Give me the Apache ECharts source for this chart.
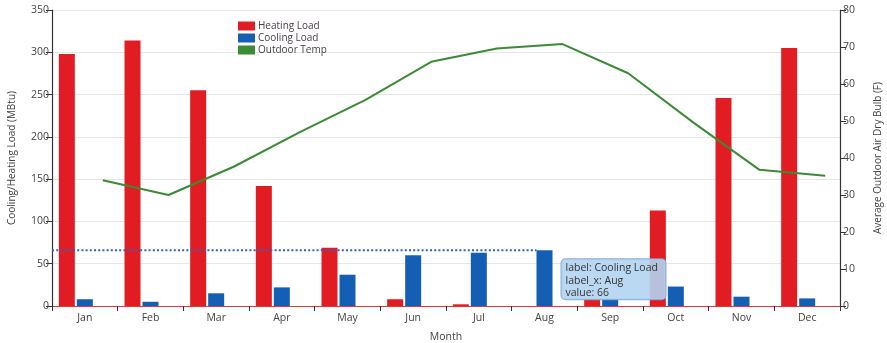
<!DOCTYPE html>
<html>
<head>
<meta charset="utf-8">
<script src="https://cdn.jsdelivr.net/npm/echarts@6/dist/echarts.min.js"></script>
<style>
  html, body { margin: 0; padding: 0; background: #fff; }
  #chart { width: 887px; height: 343px; }
</style>
</head>
<body>
<div id="chart"></div>
<script>
// Monthly building loads and outdoor temperature
const months = ['Jan', 'Feb', 'Mar', 'Apr', 'May', 'Jun', 'Jul', 'Aug', 'Sep', 'Oct', 'Nov', 'Dec'];
const heatingLoad = [298, 314, 255, 142, 69, 8, 2, 0, 8, 113, 246, 305];
const coolingLoad = [8, 5, 15, 22, 37, 60, 63, 66, 8, 23, 11, 9];
const outdoorTemp = [34, 30, 37.7, 47, 55.7, 66, 69.6, 70.8, 62.9, 49.5, 36.8, 35.2];

// Axis ranges
const loadAxis = { min: 0, max: 350, interval: 50 };
const tempAxis = { min: 0, max: 80, interval: 10 };

// Hovered bar with its drop line and info box
const hoverSeries = 'Cooling Load';
const hoverMonth = 'Aug';

// Layout
const W = 887, H = 343;
const GRID = { left: 52, right: 47, top: 10, bottom: 37 };
const BAR_W = 16, BAR_GAP = 2;
const catWidth = (W - GRID.left - GRID.right) / months.length;
// temperature points sit on the third (empty) slot of each month group
const slotShift = (BAR_W + BAR_GAP) / catWidth;

const RED = '#e11d23', BLUE = '#145fb4', GREEN = '#3b8a34';
const FONT = 'Open Sans';
const TEXT = '#444';

const hoverIdx = months.indexOf(hoverMonth);
const hoverValue = coolingLoad[hoverIdx];

const chart = echarts.init(document.getElementById('chart'), null, { renderer: 'canvas' });

const barCommon = {
  type: 'bar',
  xAxisIndex: 0, yAxisIndex: 0,
  barWidth: BAR_W,
  barGap: (BAR_GAP / BAR_W * 100) + '%'
};

chart.setOption({
  animation: false,
  backgroundColor: '#fff',
  textStyle: { fontFamily: FONT },
  grid: {
    left: GRID.left, right: GRID.right, top: GRID.top, bottom: GRID.bottom,
    containLabel: false,
    outerBoundsMode: 'none'
  },
  legend: {
    data: ['Heating Load', 'Cooling Load', 'Outdoor Temp'],
    orient: 'vertical',
    left: 233, top: 16,
    icon: 'rect',
    itemWidth: 17, itemHeight: 9, itemGap: 2,
    textStyle: { fontFamily: FONT, fontSize: 10, color: '#4a404a', padding: [0, 0, 0, -2] }
  },
  xAxis: [
    {
      type: 'category',
      data: months,
      name: 'Month',
      nameLocation: 'middle',
      nameGap: 26,
      nameTextStyle: { fontSize: 10.5, color: TEXT },
      axisLine: { lineStyle: { color: '#e0392f', width: 1.2 } },
      axisTick: { show: true, length: 5, lineStyle: { color: '#333' } },
      axisLabel: { fontSize: 10.5, color: TEXT, margin: 7 },
      splitLine: { show: false }
    },
    {
      type: 'value',
      min: -0.5, max: months.length - 0.5,
      show: false
    }
  ],
  yAxis: [
    {
      type: 'value',
      min: loadAxis.min, max: loadAxis.max, interval: loadAxis.interval,
      name: 'Cooling/Heating Load (MBtu)',
      nameLocation: 'middle',
      nameGap: 35,
      nameTextStyle: { fontSize: 10, color: TEXT },
      axisLine: { show: true, onZero: false, lineStyle: { color: '#333', width: 1.2 } },
      axisTick: { show: true, length: 6, lineStyle: { color: '#333' } },
      axisLabel: { fontSize: 10.5, color: TEXT, margin: 3 },
      splitLine: { show: true, lineStyle: { color: '#e6e6e6', width: 1 } }
    },
    {
      type: 'value',
      position: 'right',
      min: tempAxis.min, max: tempAxis.max, interval: tempAxis.interval,
      name: 'Average Outdoor Air Dry Bulb (F)',
      nameLocation: 'middle',
      nameGap: 33,
      nameTextStyle: { fontSize: 10, color: TEXT },
      axisLine: { show: true, onZero: false, lineStyle: { color: '#333', width: 1.2 } },
      axisTick: { show: true, length: 6, lineStyle: { color: '#333' } },
      axisLabel: { fontSize: 10.5, color: TEXT, margin: 3 },
      splitLine: { show: false }
    }
  ],
  series: [
    Object.assign({}, barCommon, {
      name: 'Heating Load',
      data: heatingLoad,
      itemStyle: { color: RED },
      z: 2
    }),
    Object.assign({}, barCommon, {
      name: 'Cooling Load',
      data: coolingLoad,
      itemStyle: { color: BLUE },
      z: 2,
      markPoint: {
        symbol: 'rect',
        symbolSize: 0,
        silent: true,
        data: [{
          coord: [hoverMonth, hoverValue],
          label: {
            show: true,
            position: [17, 9],
            formatter: ['label: ' + hoverSeries, 'label_x: ' + hoverMonth, 'value: ' + hoverValue].join('\n'),
            fontFamily: FONT,
            fontSize: 10.5,
            lineHeight: 12.5,
            color: '#333',
            align: 'left',
            verticalAlign: 'top',
            width: 96,
            height: 36,
            padding: [3, 4, 1, 4],
            backgroundColor: 'rgba(178, 212, 240, 0.9)',
            borderColor: 'rgba(120, 170, 215, 0.9)',
            borderWidth: 1,
            borderRadius: 4
          }
        }]
      }
    }),
    Object.assign({}, barCommon, {
      // empty third slot of each month group
      name: 'slot',
      data: months.map(() => 0),
      itemStyle: { color: 'rgba(0,0,0,0)' },
      silent: true
    }),
    {
      name: 'Outdoor Temp',
      type: 'line',
      xAxisIndex: 1, yAxisIndex: 1,
      data: outdoorTemp.map((t, i) => [i + slotShift, t]),
      symbol: 'none',
      itemStyle: { color: GREEN },
      lineStyle: { color: GREEN, width: 2 },
      z: 3
    },
    {
      // drop line from the hovered bar to the load axis
      name: 'dropline',
      type: 'line',
      xAxisIndex: 1, yAxisIndex: 0,
      data: [[-0.5, hoverValue], [hoverIdx - (BAR_W / 2) / catWidth, hoverValue]],
      symbol: 'none',
      silent: true,
      lineStyle: { color: '#2f63b8', width: 2, type: [2, 2.2] },
      z: 4
    }
  ]
});
</script>
</body>
</html>
